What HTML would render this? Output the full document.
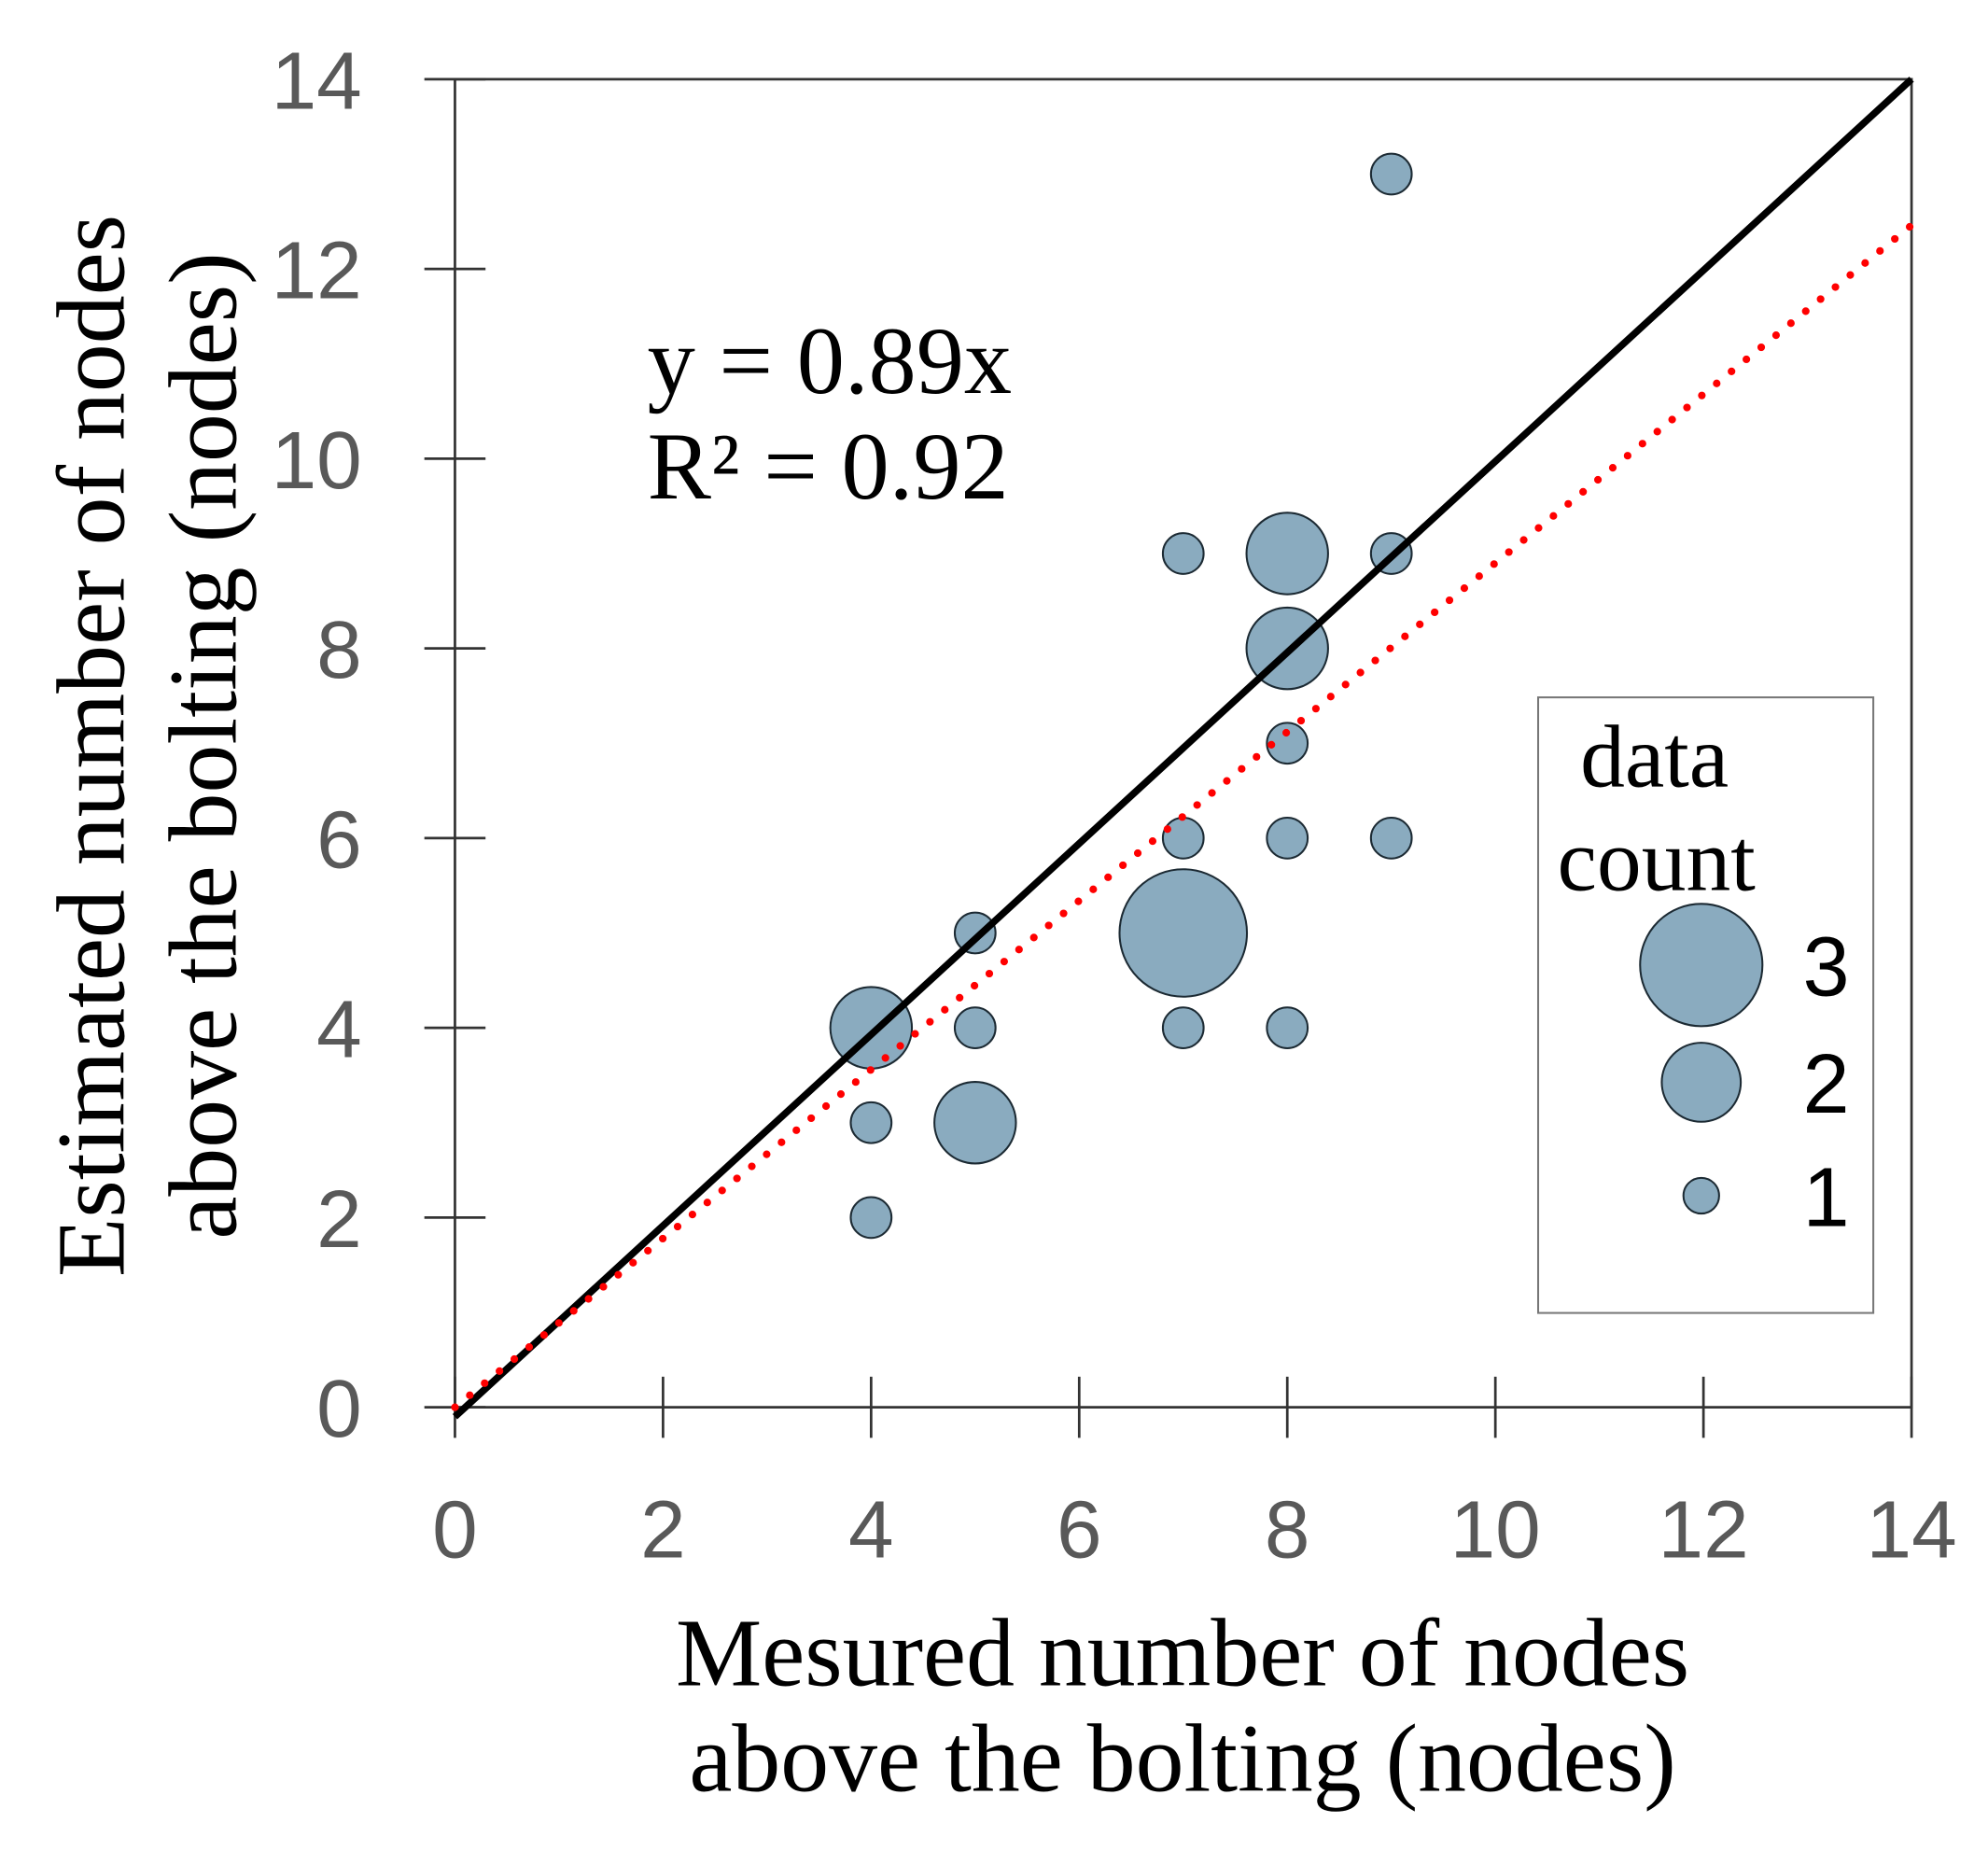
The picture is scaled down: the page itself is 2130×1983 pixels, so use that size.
<!DOCTYPE html>
<html><head><meta charset="utf-8"><style>
html,body{margin:0;padding:0;background:#fff;}
svg{display:block;}
</style></head><body>
<svg id="chart" width="2130" height="1983" viewBox="0 0 1560 1452" xmlns="http://www.w3.org/2000/svg">
<g id="axes"></g>
<g id="lines"></g>
<g id="points"></g>
<text x="508" y="308" font-family="Liberation Serif, serif" font-size="75">y = 0.89x</text>
<text x="508" y="391" font-family="Liberation Serif, serif" font-size="75">R² = 0.92</text>
<text font-family="Liberation Serif, serif" font-size="76" text-anchor="middle"><tspan x="928" y="1322">Mesured number of nodes</tspan><tspan x="928" y="1405">above the bolting (nodes)</tspan></text>
<text font-family="Liberation Serif, serif" font-size="76" text-anchor="middle" transform="translate(0,585) rotate(-90)"><tspan x="0" y="97">Estimated number of nodes</tspan><tspan x="0" y="185">above the bolting (nodes)</tspan></text>
<g id="legend">
<rect x="1207" y="547" width="263" height="483" fill="none" stroke="#777" stroke-width="1.5"/>
<text font-family="Liberation Serif, serif" font-size="70"><tspan x="1240" y="617">data</tspan><tspan x="1222" y="698">count</tspan></text>
</g>
</svg>
<script>
const xs = [4,4,4,5,5,5,7,7,7,7,8,8,8,8,8,9,9,9];
const ys = [2,3,4,3,4,5,4,5,6,9,4,6,7,8,9,6,9,13];
const counts = [1,1,2,2,1,1,1,3,1,1,1,1,1,2,2,1,1,1];
const xTicks = [0,2,4,6,8,10,12,14];
const yTicks = [0,2,4,6,8,10,12,14];
const slope = 0.89;
const legendCounts = [3,2,1];

const NS = 'http://www.w3.org/2000/svg';
const X0=357, X1=1500, Y0=1104, Y1=62;
function sx(v){return X0+(v-0)/(14-0)*(X1-X0);}
function sy(v){return Y0-(v-0)/(14-0)*(Y0-Y1);}
function rad(c){return [0,16,32,50][c]||16*Math.sqrt(c);}
function mk(tag, attrs, parent){const e=document.createElementNS(NS,tag);for(const k in attrs)e.setAttribute(k,attrs[k]);parent.appendChild(e);return e;}

const axes=document.getElementById('axes');
let f=mk('rect',{x:X0,y:Y1,width:X1-X0,height:Y0-Y1,fill:'none',stroke:'#333','stroke-width':2},axes);


xTicks.forEach(t=>{
  const l=mk('line',{x1:sx(t),x2:sx(t),y1:Y0-24,y2:Y0+24,stroke:'#333','stroke-width':2},axes);
  
  
  const tx=mk('text',{x:sx(t),y:Y0+118,'text-anchor':'middle','font-family':'Liberation Sans, sans-serif','font-size':64,fill:'#595959'},axes);
  tx.textContent=t;
  
  
});
yTicks.forEach(t=>{
  const l=mk('line',{x1:X0-24,x2:X0+24,y1:sy(t),y2:sy(t),stroke:'#333','stroke-width':2},axes);
  
  
  const tx=mk('text',{x:284,y:sy(t)+23,'text-anchor':'end','font-family':'Liberation Sans, sans-serif','font-size':64,fill:'#595959'},axes);
  tx.textContent=t;
  
  
});

const lines=document.getElementById('lines');
const pts=document.getElementById('points');
xs.forEach((x,i)=>{
  const c=mk('circle',{cx:sx(x),cy:sy(ys[i]),r:rad(counts[i]),fill:'#8aabbf',stroke:'#1c2a33','stroke-width':1.5},pts);
  
  
});
const id=mk('line',{x1:sx(0),y1:sy(-0.1),x2:sx(14),y2:sy(14),stroke:'#000','stroke-width':5.5},lines);


const rl=mk('line',{x1:sx(0),y1:sy(0),x2:sx(14),y2:sy(14*slope),stroke:'#ff0000','stroke-width':6,'stroke-linecap':'round','stroke-dasharray':'0 15'},lines);


pts.parentNode.appendChild(pts.parentNode.removeChild(lines));

const leg=document.getElementById('legend');
const ly=[757,849,938];
legendCounts.forEach((c,i)=>{
  const b=mk('circle',{cx:1335,cy:ly[i],r:[14,31,48][c-1],fill:'#8aabbf',stroke:'#1c2a33','stroke-width':1.5},leg);
  
  
  const t=mk('text',{x:1433,y:ly[i]+24,'text-anchor':'middle','font-family':'Liberation Sans, sans-serif','font-size':66,fill:'#000'},leg);
  t.textContent=c;
  
  
});
</script>
</body></html>
